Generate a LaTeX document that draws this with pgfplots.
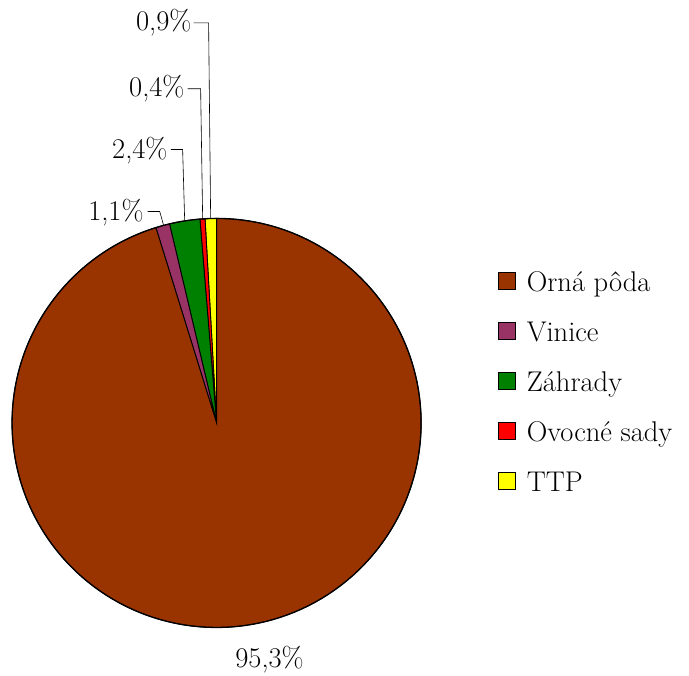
\documentclass[border=0pt]{standalone}
\usepackage{pgfplots}
\usepackage{pgfplotstable}
\pgfplotsset{compat=1.18}

\definecolor{orna}{HTML}{993300}
\definecolor{vin}{HTML}{993366}
\definecolor{zahr}{HTML}{008000}
\definecolor{ovoc}{HTML}{FF0000}
\definecolor{ttp}{HTML}{FFFF00}

% counter-clockwise from 12 o'clock
\pgfplotstableread{
pct  col
0.9  ttp
0.4  ovoc
2.4  zahr
1.1  vin
95.3 orna
}\piedata

\begin{document}
\begin{tikzpicture}[font=\rmfamily\fontsize{28.5bp}{34bp}\selectfont]
\begin{axis}[
    x=204.5bp, y=204.5bp,
    xmin=-1.059, xmax=2.310,
    ymin=-1.235, ymax=2.068,
    hide axis, clip=false,
    legend cell align=left,
    legend style={draw=none, fill=none, at={(axis cs:1.376,0.751)}, anchor=north west,
        font=\rmfamily\fontsize{28.5bp}{34bp}\selectfont, inner sep=0pt, row sep=20bp,
        nodes={inner sep=0pt, text height=22bp, text depth=8bp}},
    legend image code/.code={\draw[#1, line width=0.9pt] (0bp,-5bp) rectangle (17bp,12bp);
        \path (28bp,0bp);},
]
\addlegendimage{fill=orna, draw=black}\addlegendentry{Orná pôda}
\addlegendimage{fill=vin, draw=black}\addlegendentry{Vinice}
\addlegendimage{fill=zahr, draw=black}\addlegendentry{Záhrady}
\addlegendimage{fill=ovoc, draw=black}\addlegendentry{Ovocné sady}
\addlegendimage{fill=ttp, draw=black}\addlegendentry{TTP}

\pgfplotstablegetrowsof{\piedata}
\pgfmathtruncatemacro\nrows{\pgfplotsretval-1}
\def\cum{90}
\pgfplotsforeachungrouped \i in {0,...,\nrows}{
    \pgfplotstablegetelem{\i}{pct}\of\piedata \let\pv\pgfplotsretval
    \pgfplotstablegetelem{\i}{col}\of\piedata \let\pc\pgfplotsretval
    \pgfmathsetmacro\endang{\cum+\pv*3.6/1.001}
    \edef\temp{\noexpand\filldraw[fill=\pc, draw=black, line width=0.9pt]
        (axis cs:0,0) -- (axis cs:{cos(\cum)},{sin(\cum)})
        arc[start angle=\cum, end angle=\endang, radius=204.5bp] -- cycle;}
    \temp
    \global\let\cum\endang
}
\draw[black, line width=1.3pt] (axis cs:0,0) circle[radius=204.5bp];

% leader lines
\draw[black, line width=0.6pt] (axis cs:-0.112,1.956) -- (axis cs:-0.039,1.956) -- (axis cs:-0.029,1.0);
\draw[black, line width=0.6pt] (axis cs:-0.141,1.634) -- (axis cs:-0.078,1.634) -- (axis cs:-0.068,0.995);
\draw[black, line width=0.6pt] (axis cs:-0.224,1.337) -- (axis cs:-0.166,1.337) -- (axis cs:-0.156,0.990);
\draw[black, line width=0.6pt] (axis cs:-0.337,1.034) -- (axis cs:-0.278,1.034) -- (axis cs:-0.259,0.966);

\node[anchor=east, inner sep=0pt] at (axis cs:-0.122,1.956) {0,9\%};
\node[anchor=east, inner sep=0pt] at (axis cs:-0.156,1.634) {0,4\%};
\node[anchor=east, inner sep=0pt] at (axis cs:-0.239,1.332) {2,4\%};
\node[anchor=east, inner sep=0pt] at (axis cs:-0.356,1.029) {1,1\%};
\node[inner sep=0pt] at (axis cs:0.259,-1.156) {95,3\%};

\coordinate (bbl) at (axis cs:-1.059,-1.235);
\coordinate (btr) at (axis cs:2.310,2.068);
\end{axis}
\pgfresetboundingbox
\path (bbl) rectangle (btr);
\end{tikzpicture}
\end{document}
